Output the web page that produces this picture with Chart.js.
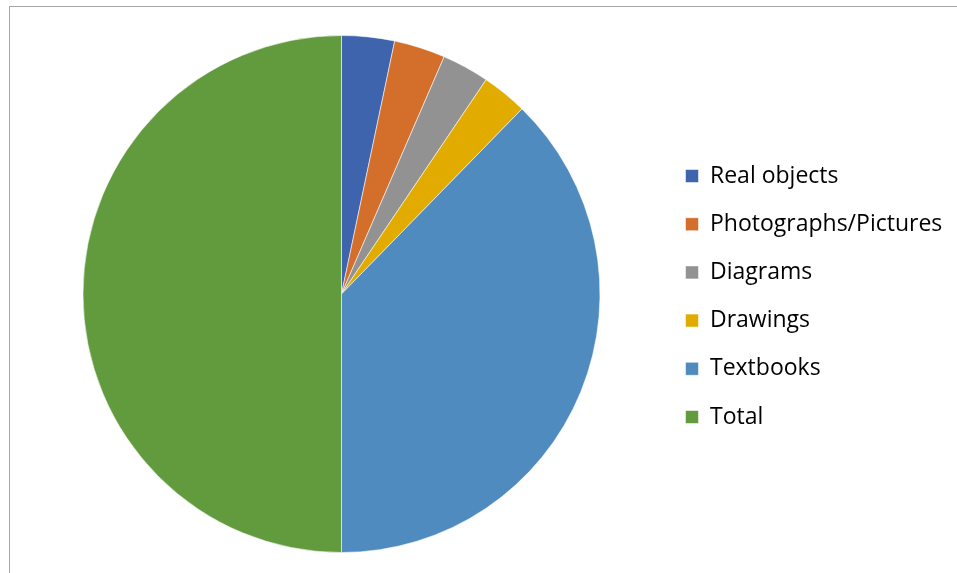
<!DOCTYPE html>
<html>
<head>
<meta charset="utf-8">
<script src="https://cdn.jsdelivr.net/npm/chart.js@4/dist/chart.umd.min.js"></script>
<style>
  html, body { margin: 0; padding: 0; background: #ffffff; overflow: hidden; }
  #frame { position: absolute; left: 9px; top: 6px; width: 1000px; height: 600px;
           border-left: 1px solid #a6a6a6; border-top: 1px solid #a6a6a6; }
  #wrap { position: absolute; left: 0; top: 0; width: 957px; height: 573px; }
</style>
</head>
<body>
<div id="frame"></div>
<div id="wrap"><canvas id="c" width="957" height="573"></canvas></div>
<script>
const categories = ["Real objects", "Photographs/Pictures", "Diagrams", "Drawings", "Textbooks", "Total"];
const values = [6.6, 6.4, 5.9, 5.7, 75.4, 100];
const colors = ["#3d64ad", "#d36f2b", "#929292", "#e2ab00", "#4f8bbf", "#629a3e"];

const FONT = { family: "'Open Sans', 'Noto Sans', sans-serif", size: 23 };
const LEG_PAD = 25.2;
// measure widest label so the legend lands at the same x as the reference
const mctx = document.createElement('canvas').getContext('2d');
mctx.font = FONT.size + 'px ' + FONT.family;
const maxW = Math.max(...categories.map(t => mctx.measureText(t).width));
const legendLeft = 685.5 - LEG_PAD;
const legendWidth = 13 + FONT.size / 2 + maxW + LEG_PAD + 10;
const padRight = 957 - legendLeft - legendWidth;
const padLeft = 2 * 341.5 - legendLeft;

new Chart(document.getElementById('c'), {
  type: 'pie',
  data: {
    labels: categories,
    datasets: [{
      data: values,
      backgroundColor: colors,
      borderColor: 'rgba(255,255,255,0.55)',
      borderWidth: 1
    }]
  },
  options: {
    responsive: false,
    devicePixelRatio: 1,
    animation: false,
    layout: { padding: { left: padLeft, right: padRight, top: 35, bottom: 20 } },
    plugins: {
      tooltip: { enabled: false },
      legend: {
        position: 'right',
        align: 'center',
        title: {
          display: true,
          text: ' ',
          font: { size: 1, lineHeight: 1 },
          padding: { top: 2, bottom: 2 }
        },
        labels: {
          boxWidth: 13,
          boxHeight: 13,
          padding: LEG_PAD,
          color: '#000000',
          font: FONT
        }
      }
    }
  }
});
</script>
</body>
</html>
